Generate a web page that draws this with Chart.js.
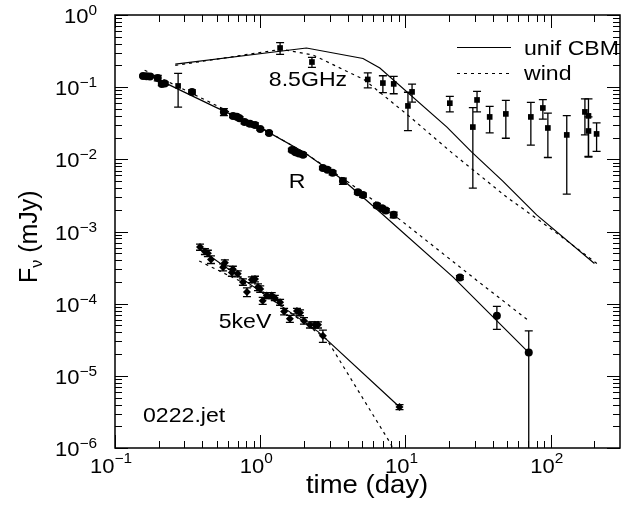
<!DOCTYPE html>
<html>
<head>
<meta charset="utf-8">
<title>0222.jet</title>
<script src="https://cdn.jsdelivr.net/npm/chart.js"></script>
<style>
  body { margin: 0; background: #fff; }
  .chart-container { width: 634px; height: 508px; }
</style>
</head>
<body>
<div class="chart-container">
  <canvas id="lcChart" width="634" height="508"></canvas>
</div>
<script>
// R band (time in days, flux in mJy, symmetric error)
const rTime = [0.156, 0.165, 0.174, 0.197, 0.21, 0.22, 0.339, 0.562, 0.65, 0.69, 0.72, 0.78, 0.85, 0.92, 1.0, 1.15, 1.65, 1.75, 1.85, 1.97, 2.7, 2.9, 3.15, 3.71, 4.7, 5.1, 6.36, 6.9, 7.33, 8.3, 23.7, 42.6, 70.6];
const rFlux = [0.143, 0.142, 0.140, 0.134, 0.111, 0.112, 0.086, 0.0454, 0.040, 0.039, 0.037, 0.033, 0.031, 0.030, 0.0264, 0.0232, 0.0135, 0.0125, 0.012, 0.0116, 0.0076, 0.0072, 0.0065, 0.0050, 0.0035, 0.0032, 0.0023, 0.0021, 0.00195, 0.0017, 2.3e-4, 6.8e-5, 2.1e-5];
const rErr  = [0.004, 0.004, 0.004, 0.012, 0.006, 0.006, 0.006, 0.005, 0.002, 0.002, 0.002, 0.002, 0.002, 0.002, 0.001, 0.001, 0.0007, 0.0007, 0.0007, 0.0007, 0.0004, 0.0004, 0.0004, 0.0005, 0.0002, 0.0002, 0.00015, 0.00012, 0.00012, 0.00015, 1.5e-5, 2.4e-5, 2.1e-5];

// 8.5 GHz radio
const radioTime = [0.272, 1.37, 2.27, 5.5, 6.99, 8.3, 10.4, 11.1, 20.2, 29.1, 31.1, 38.0, 49.1, 73, 88.3, 95.6, 129, 172, 182, 182, 207];
const radioFlux = [0.104, 0.349, 0.223, 0.128, 0.114, 0.111, 0.055, 0.086, 0.060, 0.028, 0.0665, 0.0387, 0.0426, 0.0387, 0.0515, 0.0272, 0.0218, 0.0454, 0.040, 0.0247, 0.0225];
const radioErr  = [0.051, 0.065, 0.035, 0.03, 0.03, 0.03, 0.03, 0.024, 0.0145, 0.024, 0.021, 0.0155, 0.023, 0.023, 0.0155, 0.0166, 0.0185, 0.0236, 0.029, 0.014, 0.0096];

// 5 keV X-ray
const xrayTime = [0.385, 0.416, 0.436, 0.458, 0.555, 0.571, 0.638, 0.648, 0.70, 0.76, 0.81, 0.876, 0.92, 0.965, 1.0, 1.04, 1.11, 1.20, 1.26, 1.37, 1.46, 1.60, 1.79, 1.88, 2.0, 2.2, 2.38, 2.5, 2.7, 9.1];
const xrayFlux = [6.1e-4, 5.3e-4, 5.0e-4, 4.1e-4, 3.2e-4, 3.7e-4, 2.7e-4, 3.0e-4, 2.6e-4, 2.0e-4, 1.45e-4, 2.15e-4, 2.2e-4, 1.7e-4, 1.6e-4, 1.1e-4, 1.3e-4, 1.3e-4, 1.2e-4, 1.05e-4, 7.8e-5, 6.2e-5, 7.9e-5, 7.5e-5, 5.8e-5, 5.1e-5, 5.1e-5, 5.1e-5, 3.6e-5, 3.7e-6];
const xrayErr  = [0.6e-4, 0.5e-4, 0.5e-4, 0.5e-4, 0.35e-4, 0.35e-4, 0.3e-4, 0.3e-4, 0.25e-4, 0.2e-4, 0.2e-4, 0.2e-4, 0.2e-4, 0.18e-4, 0.16e-4, 0.12e-4, 0.12e-4, 0.12e-4, 0.1e-4, 0.1e-4, 0.08e-4, 0.07e-4, 0.07e-4, 0.07e-4, 0.06e-4, 0.05e-4, 0.05e-4, 0.05e-4, 0.7e-5, 0.3e-6];

// model curves: uniform CBM (solid) and wind (dashed)
const cbmRTime = [0.17, 0.5, 1.0, 2.0, 3.7, 6.67, 21.2, 70.6];
const cbmRFlux = [0.148, 0.052, 0.0275, 0.0125, 0.0052, 0.00186, 2.35e-4, 2.1e-5];
const windRTime = [0.16, 1.0, 2.0, 4.0, 9.2, 31, 70.6];
const windRFlux = [0.172, 0.028, 0.0125, 0.0049, 0.00145, 2.1e-4, 5.8e-5];

const cbmRadioTime = [0.26, 2.08, 5.1, 6.66, 19.3, 28.5, 46.8, 80, 200];
const cbmRadioFlux = [0.209, 0.349, 0.25, 0.184, 0.028, 0.0127, 0.0050, 0.0017, 3.6e-4];
const windRadioTime = [0.26, 1.4, 2.3, 5.2, 10.7, 21, 49.7, 103, 216];
const windRadioFlux = [0.2, 0.335, 0.28, 0.127, 0.039, 0.0122, 0.003, 0.00105, 3.4e-4];

const cbmXTime = [0.38, 1.0, 2.5, 9.1];
const cbmXFlux = [5.8e-4, 1.48e-4, 4.1e-5, 3.7e-6];
const windXTime = [0.38, 1.0, 2.87, 7.8, 9.0];
const windXFlux = [3.9e-4, 1.5e-4, 3.2e-5, 1.2e-6, 7e-7];

// axis ticks
const xTickValues = [0.1, 1, 10, 100];
const xTickExp = ['\u22121', '0', '1', '2'];
const yTickValues = [1, 0.1, 0.01, 1e-3, 1e-4, 1e-5, 1e-6];
const yTickExp = ['0', '\u22121', '\u22122', '\u22123', '\u22124', '\u22125', '\u22126'];

const FONT = '"Liberation Sans", Arial, sans-serif';
const SX = 1.1;   // text in the original is a bit wide

function pts(xs, ys) {
    return xs.map((x, i) => ({ x: x, y: ys[i] }));
}

function put(ctx, s, x, y, size, align) {
    ctx.save();
    ctx.font = size + 'px ' + FONT;
    ctx.fillStyle = '#000';
    ctx.textAlign = align || 'left';
    ctx.textBaseline = 'alphabetic';
    ctx.translate(x, y);
    ctx.scale(SX, 1);
    ctx.fillText(s, 0, 0);
    ctx.restore();
}

function wid(ctx, s, size) {
    ctx.save();
    ctx.font = size + 'px ' + FONT;
    const w = ctx.measureText(s).width * SX;
    ctx.restore();
    return w;
}

const errorBars = {
    id: 'errorBars',
    beforeDatasetsDraw(chart) {
        const ctx = chart.ctx, xs = chart.scales.x, ys = chart.scales.y, a = chart.chartArea;
        ctx.save();
        ctx.beginPath();
        ctx.rect(a.left, a.top, a.right - a.left, a.bottom - a.top);
        ctx.clip();
        ctx.strokeStyle = '#000';
        ctx.lineWidth = 1.3;
        chart.data.datasets.forEach(ds => {
            if (!ds.err) return;
            ds.data.forEach((p, i) => {
                const e = ds.err[i];
                const px = xs.getPixelForValue(p.x);
                const hi = ys.getPixelForValue(p.y + e);
                const hasLo = p.y - e > 0;
                const lo = hasLo ? ys.getPixelForValue(p.y - e) : a.bottom + 5;
                ctx.beginPath();
                ctx.moveTo(px, hi); ctx.lineTo(px, lo);
                ctx.moveTo(px - ds.cap, hi); ctx.lineTo(px + ds.cap, hi);
                if (hasLo) { ctx.moveTo(px - ds.cap, lo); ctx.lineTo(px + ds.cap, lo); }
                ctx.stroke();
            });
        });
        ctx.restore();
    }
};

const frame = {
    id: 'frame',
    afterDraw(chart) {
        const ctx = chart.ctx, xs = chart.scales.x, ys = chart.scales.y, a = chart.chartArea;
        ctx.save();
        ctx.strokeStyle = '#000';
        ctx.lineWidth = 1.5;
        ctx.strokeRect(a.left, a.top, a.right - a.left, a.bottom - a.top);

        // inward ticks on all four sides
        ctx.lineWidth = 1;
        ctx.beginPath();
        for (let e = -1; e <= 2; e++) {
            for (let m = 1; m < 10; m++) {
                const v = m * Math.pow(10, e);
                if (v >= xs.max) break;
                const px = Math.round(xs.getPixelForValue(v)) + 0.5;
                const len = m === 1 ? 13 : 7;
                ctx.moveTo(px, a.bottom); ctx.lineTo(px, a.bottom - len);
                ctx.moveTo(px, a.top); ctx.lineTo(px, a.top + len);
            }
        }
        for (let e = -6; e <= 0; e++) {
            for (let m = 1; m < 10; m++) {
                const v = m * Math.pow(10, e);
                if (v > ys.max) break;
                const py = Math.round(ys.getPixelForValue(v)) + 0.5;
                const len = m === 1 ? 13 : 7;
                ctx.moveTo(a.left, py); ctx.lineTo(a.left + len, py);
                ctx.moveTo(a.right, py); ctx.lineTo(a.right - len, py);
            }
        }
        ctx.stroke();

        // tick labels as 10^n
        xTickValues.forEach((v, i) => {
            const px = xs.getPixelForValue(v);
            const wb = wid(ctx, '10', 20), ws = wid(ctx, xTickExp[i], 14);
            const left = px - 4 - (wb + ws) / 2;
            put(ctx, '10', left, a.bottom + 25, 20);
            put(ctx, xTickExp[i], left + wb, a.bottom + 15, 14);
        });
        yTickValues.forEach((v, i) => {
            const py = ys.getPixelForValue(v);
            const wb = wid(ctx, '10', 20), ws = wid(ctx, yTickExp[i], 14);
            const left = 97 - wb - ws;
            put(ctx, '10', left, py + 8, 20);
            put(ctx, yTickExp[i], left + wb, py, 14);
        });

        // axis titles
        put(ctx, 'time (day)', 367, 493, 25, 'center');
        ctx.save();
        ctx.translate(37, 283);
        ctx.rotate(-Math.PI / 2);
        ctx.fillStyle = '#000';
        ctx.font = '25px ' + FONT;
        ctx.fillText('F', 0, 0);
        let w = ctx.measureText('F').width;
        ctx.font = '16px ' + FONT;
        ctx.fillText('\u03BD', w, 5);
        w += ctx.measureText('\u03BD').width;
        ctx.font = '25px ' + FONT;
        ctx.fillText(' (mJy)', w, 0);
        ctx.restore();

        // curve labels
        put(ctx, '8.5GHz', 308, 86, 21, 'center');
        put(ctx, 'R', 297, 188, 21, 'center');
        put(ctx, '5keV', 245, 328, 21, 'center');
        put(ctx, '0222.jet', 143, 422, 21);

        // legend
        ctx.lineWidth = 1.2;
        ctx.beginPath();
        ctx.moveTo(457, 47.5); ctx.lineTo(511, 47.5);
        ctx.stroke();
        ctx.setLineDash([3, 4]);
        ctx.beginPath();
        ctx.moveTo(457, 73.5); ctx.lineTo(511, 73.5);
        ctx.stroke();
        ctx.setLineDash([]);
        put(ctx, 'unif CBM', 524, 55, 21);
        put(ctx, 'wind', 524, 80, 21);
        ctx.restore();
    }
};

function model(xs, ys, dashed) {
    return {
        data: pts(xs, ys),
        showLine: true,
        borderColor: '#000',
        borderWidth: 1.2,
        borderDash: dashed ? [3, 4] : [],
        pointRadius: 0,
        tension: 0
    };
}

const ctx = document.getElementById('lcChart').getContext('2d');

const chart = new Chart(ctx, {
    type: 'scatter',
    data: {
        datasets: [
            {
                label: 'R',
                data: pts(rTime, rFlux),
                err: rErr, cap: 4,
                pointStyle: 'circle', pointRadius: 4,
                backgroundColor: '#000', borderColor: '#000', borderWidth: 0
            },
            {
                label: '8.5GHz',
                data: pts(radioTime, radioFlux),
                err: radioErr, cap: 4,
                pointStyle: 'rect', pointRadius: 4,
                backgroundColor: '#000', borderColor: '#000', borderWidth: 0
            },
            {
                label: '5keV',
                data: pts(xrayTime, xrayFlux),
                err: xrayErr, cap: 4,
                pointStyle: 'rectRot', pointRadius: 4,
                backgroundColor: '#000', borderColor: '#000', borderWidth: 0
            },
            model(cbmRTime, cbmRFlux, false),
            model(windRTime, windRFlux, true),
            model(cbmRadioTime, cbmRadioFlux, false),
            model(windRadioTime, windRadioFlux, true),
            model(cbmXTime, cbmXFlux, false),
            model(windXTime, windXFlux, true)
        ]
    },
    options: {
        responsive: false,
        animation: false,
        events: [],
        layout: {
            padding: { left: 115, top: 15, right: 14, bottom: 60 }
        },
        plugins: {
            legend: { display: false },
            tooltip: { enabled: false }
        },
        scales: {
            x: { type: 'logarithmic', min: 0.1, max: 300, display: false },
            y: { type: 'logarithmic', min: 1e-6, max: 1, display: false }
        }
    },
    plugins: [errorBars, frame]
});
</script>
</body>
</html>
